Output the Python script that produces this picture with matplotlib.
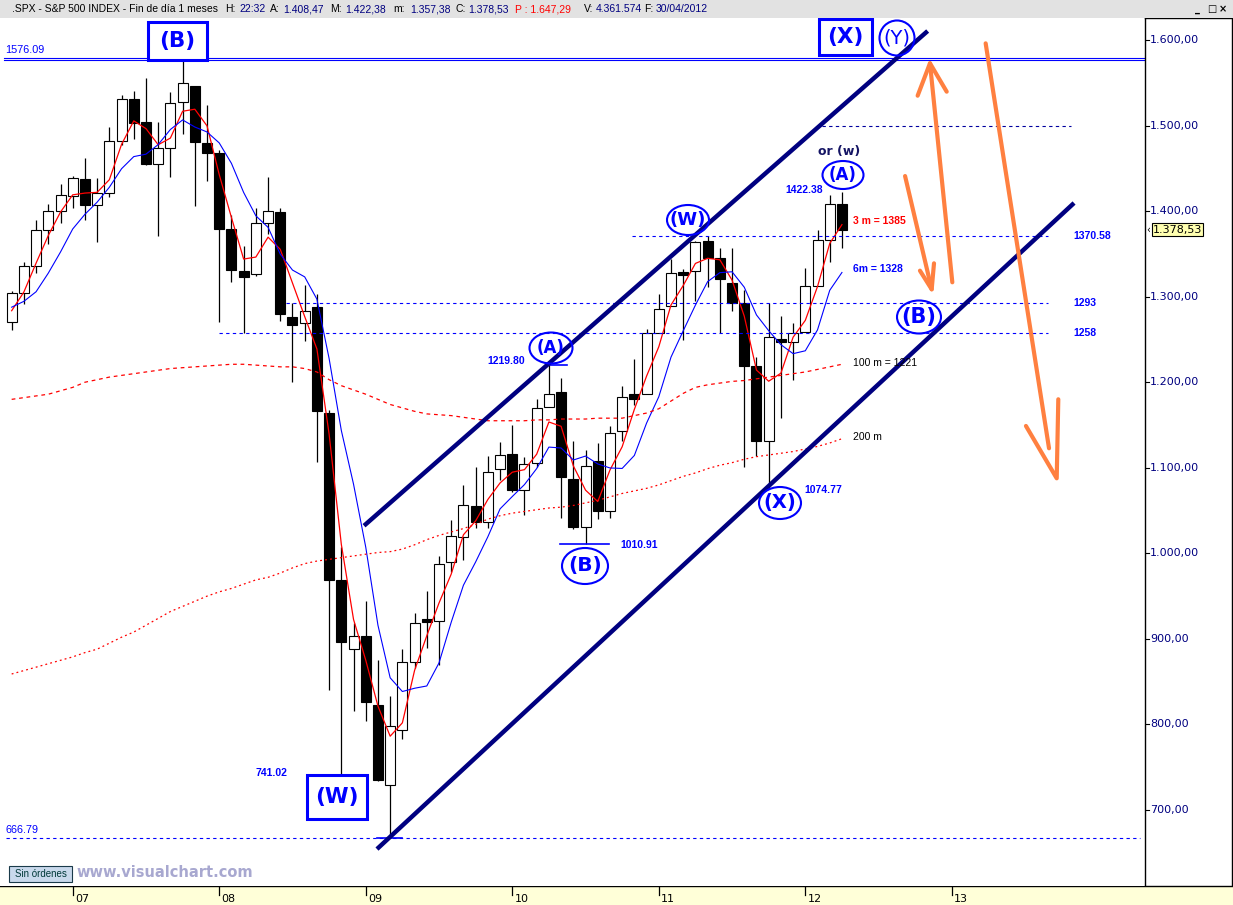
import numpy as np
import pandas as pd
import matplotlib
matplotlib.use("Agg")
from matplotlib import pyplot as plt
from matplotlib.patches import Rectangle, Ellipse

# SPX monthly bars, Aug 2006 .. Apr 2012
months = pd.period_range("2006-08", "2012-04", freq="M")
opens = [1270.9, 1303.8, 1335.8, 1377.8, 1400.6,
         1418.0, 1437.9, 1406.8, 1420.8, 1482.4, 1530.6, 1504.7, 1455.2, 1474.0, 1527.3, 1545.8, 1479.6,
         1468.0, 1378.6, 1330.5, 1326.4, 1386.0, 1399.0, 1276.7, 1269.4, 1287.8, 1164.2, 968.7, 888.6,
         903.0, 823.1, 729.6, 793.6, 872.7, 923.3, 920.8, 990.2, 1019.5, 1054.9, 1036.2, 1098.9,
         1116.6, 1073.9, 1105.4, 1171.2, 1188.6, 1087.3, 1031.1, 1107.5, 1049.7, 1143.5, 1185.7, 1186.6,
         1257.6, 1289.1, 1328.6, 1329.5, 1365.2, 1345.2, 1315.7, 1292.6, 1219.1, 1131.2, 1251.0, 1246.9,
         1258.9, 1312.5, 1365.9, 1408.5]
highs = [1306.7, 1340.3, 1389.5, 1407.9, 1431.8,
         1441.6, 1461.6, 1438.9, 1498.0, 1535.6, 1540.6, 1555.9, 1503.9, 1538.7, 1576.1, 1545.8, 1523.6,
         1471.8, 1396.0, 1359.7, 1404.0, 1440.2, 1404.1, 1292.2, 1313.2, 1303.0, 1167.0, 1007.5, 918.9,
         943.9, 875.0, 833.0, 888.7, 930.2, 956.2, 996.7, 1039.5, 1080.2, 1101.4, 1113.7, 1130.4,
         1150.5, 1112.4, 1180.7, 1219.8, 1205.1, 1131.2, 1121.0, 1129.2, 1148.7, 1196.1, 1227.1, 1262.6,
         1302.7, 1344.1, 1332.3, 1364.6, 1370.6, 1356.5, 1356.5, 1307.4, 1229.3, 1292.7, 1277.6, 1269.4,
         1333.5, 1378.0, 1419.2, 1422.4]
lows = [1261.3, 1290.9, 1327.1, 1361.0, 1385.9,
        1404.0, 1389.4, 1364.0, 1416.4, 1476.7, 1484.2, 1454.3, 1370.6, 1439.3, 1489.6, 1406.1, 1435.6,
        1270.1, 1316.8, 1257.0, 1324.4, 1373.1, 1272.0, 1200.4, 1248.6, 1106.4, 839.8, 741.0, 815.7,
        804.3, 734.5, 666.8, 783.3, 866.1, 888.9, 869.3, 978.5, 992.0, 1029.4, 1029.4, 1085.9,
        1071.6, 1044.5, 1101.0, 1170.7, 1040.8, 1028.3, 1010.9, 1039.7, 1041.1, 1131.9, 1173.0, 1186.6,
        1257.6, 1289.1, 1249.1, 1294.7, 1311.8, 1258.1, 1283.0, 1101.5, 1114.2, 1074.8, 1158.7, 1202.4,
        1258.9, 1312.5, 1340.0, 1357.4]
closes = [1303.8, 1335.9, 1377.9, 1400.6, 1418.3,
          1438.2, 1406.8, 1420.9, 1482.4, 1530.6, 1503.4, 1455.3, 1474.0, 1526.8, 1549.4, 1481.1, 1468.4,
          1378.6, 1330.6, 1322.7, 1385.6, 1400.4, 1280.0, 1267.4, 1282.8, 1166.4, 968.8, 896.2, 903.3,
          825.9, 735.1, 797.9, 872.8, 919.1, 919.3, 987.5, 1020.6, 1057.1, 1036.2, 1095.6, 1115.1,
          1073.9, 1104.5, 1169.4, 1186.7, 1089.4, 1030.7, 1101.6, 1049.3, 1141.2, 1183.3, 1180.6, 1257.6,
          1286.1, 1327.2, 1325.8, 1363.6, 1345.2, 1320.6, 1292.3, 1218.9, 1131.4, 1253.3, 1247.0, 1257.6,
          1312.4, 1365.7, 1408.5, 1378.5]
# closes Mar-Jul 2006, needed for the 3 and 6 month averages
prior_closes = [1294.9, 1310.6, 1270.1, 1270.2, 1276.7]

# 100 and 200 month averages
ma100 = [1180, 1182, 1184, 1186, 1190, 1194, 1200, 1203, 1206, 1208, 1210, 1212, 1214, 1216, 1217,
         1218, 1219, 1220, 1221, 1221, 1220, 1219, 1218, 1218, 1216, 1212, 1203, 1196, 1191, 1186,
         1180, 1174, 1170, 1166, 1163, 1162, 1161, 1159, 1157, 1155, 1155, 1155, 1155, 1156, 1156,
         1157, 1157, 1157, 1158, 1158, 1158, 1161, 1164, 1169, 1178, 1187, 1194, 1197, 1199, 1201,
         1202, 1204, 1206, 1208, 1210, 1212, 1215, 1218, 1221]
ma200 = [859, 863, 867, 871, 875, 879, 884, 888, 895, 902, 908, 916, 924, 932, 938,
         944, 950, 955, 959, 964, 969, 972, 977, 983, 988, 991, 993, 995, 997, 999,
         1001, 1002, 1005, 1010, 1016, 1021, 1025, 1029, 1034, 1040, 1044, 1047, 1049, 1051, 1053,
         1054, 1056, 1059, 1062, 1066, 1070, 1073, 1076, 1080, 1085, 1090, 1094, 1099, 1103, 1106,
         1110, 1113, 1115, 1117, 1119, 1122, 1125, 1129, 1134]

# horizontal levels: (price, month from, month to)
levels_dashed = [(1500.0, 66.4, 86.8), (1370.58, 50.8, 84.9), (1293.0, 22.5, 84.9), (1258.0, 17.0, 84.9)]
level_labels = ["", "1370.58", "1293", "1258"]
low_mark = 666.79
high_mark = 1576.09
short_marks = [(1010.91, 44.9, 48.9), (666.79, 29.9, 32.0), (1219.8, 43.9, 45.5)]

# channel lines (month index, price)
channel_upper = [(28.86, 1032.3), (75.02, 1610.5)]
channel_lower = [(29.92, 654.4), (87.01, 1409.5)]

# orange arrows: shaft and head (month index, price)
arrows = [
    ([(77.04, 1316.8), (75.21, 1572.8)], [(74.20, 1534.9), (75.21, 1572.8), (76.58, 1539.6)]),
    ([(73.17, 1441.0), (75.35, 1308.6)], [(74.39, 1330.4), (75.35, 1308.6), (75.54, 1339.0)]),
    ([(79.77, 1596.1), (84.96, 1122.8)], [(83.07, 1148.9), (85.59, 1087.7), (85.72, 1180.1)]),
]

plt.rcParams["font.family"] = ["DejaVu Sans"]

W, H = 1233, 905
X0, DX = 11.66, 12.21     # pixel of first bar, pixels per month
Y0, KY = 40.0, 0.8556     # pixel of 1600, pixels per point


def dx(px):
    return (px - X0) / DX


def dy(py):
    return 1600 - (py - Y0) / KY


fig = plt.figure(figsize=(W / 100, H / 100), dpi=100)
fig.patch.set_facecolor("white")

ax = fig.add_axes([0, (H - 886) / H, 1145 / W, (886 - 18) / H])
ax.set_xlim(dx(0), dx(1145))
ax.set_ylim(dy(886), dy(18))
ax.axis("off")

x = np.arange(len(months))

# candles
bw = 10 / DX
for i in x:
    o, h, l, c = opens[i], highs[i], lows[i], closes[i]
    ax.vlines(i, l, h, color="black", lw=0.9, zorder=2)
    bottom = min(o, c)
    height = max(abs(c - o), 1.2)
    face = "white" if c >= o else "black"
    ax.add_patch(Rectangle((i - bw / 2, bottom), bw, height, facecolor=face,
                           edgecolor="black", lw=0.8, zorder=3))

# moving averages
all_closes = pd.Series(prior_closes + closes)
ma3 = all_closes.rolling(3).mean().values[len(prior_closes):]
ma6 = all_closes.rolling(6).mean().values[len(prior_closes):]
ax.plot(x, ma3, color="#ff0000", lw=0.9, zorder=4)
ax.plot(x, ma6, color="#0000ff", lw=0.8, zorder=4)
ax.plot(x, ma100, color="#ff0000", lw=0.9, ls=(0, (3, 3)), zorder=4)
ax.plot(x, ma200, color="#ff0000", lw=0.9, ls=(0, (1.5, 2.5)), zorder=4)

# levels
for (p, a, b), lab in zip(levels_dashed, level_labels):
    col = "#0000a0" if p == 1500.0 else "#0000ff"
    ax.plot([a, b], [p, p], color=col, lw=0.8, ls=(0, (3, 3)), zorder=4)
    if lab:
        ax.text(dx(1073), p, lab, color="#0000ff", fontsize=7.5, fontweight="bold",
                family="Liberation Sans", va="center", ha="left", zorder=8)
ax.plot([dx(6), dx(1140)], [low_mark, low_mark], color="#0000ff", lw=0.8, ls=(0, (3, 3)), zorder=4)
for off in (0, 2.3):
    ax.plot([dx(4), dx(1145)], [high_mark + off, high_mark + off], color="#0000ff", lw=0.8, zorder=4)
ax.text(dx(5), dy(50), "1576.09", color="#0000ff", fontsize=7.8, family="Liberation Sans",
        va="center", ha="left")
ax.text(dx(5), dy(830), "666.79", color="#0000ff", fontsize=7.8, family="Liberation Sans",
        va="center", ha="left")
for p, a, b in short_marks:
    ax.plot([a, b], [p, p], color="#0000ff", lw=1.2, zorder=4)

# channel
for seg in (channel_upper, channel_lower):
    ax.plot([seg[0][0], seg[1][0]], [seg[0][1], seg[1][1]], color="#000080", lw=3.2,
            solid_capstyle="butt", zorder=6)

# orange arrows
for shaft, head in arrows:
    ax.plot([q[0] for q in shaft], [q[1] for q in shaft], color="#ff8040", lw=3,
            solid_capstyle="round", zorder=7)
    ax.plot([q[0] for q in head], [q[1] for q in head], color="#ff8040", lw=3,
            solid_capstyle="round", solid_joinstyle="round", zorder=7)

# boxed wave labels (text, cx, cy, x1, y1, x2, y2) in pixels
boxed = [("(B)", 177, 41, 148, 22, 207, 60),
         ("(X)", 845, 37, 819, 19, 872, 55),
         ("(W)", 337, 797, 307, 775, 367, 819)]
for t, cx, cy, x1, y1, x2, y2 in boxed:
    ax.add_patch(Rectangle((dx(x1), dy(y2)), (x2 - x1) / DX, (y2 - y1) / KY, facecolor="white",
                           edgecolor="#0000ff", lw=2.2, zorder=8))
    ax.text(dx(cx), dy(cy), t, color="#0000ff", fontsize=15.5, fontweight="bold",
            ha="center", va="center", zorder=9)

# circled wave labels (text, cx, cy, w, h, fontsize, bold)
circled = [("(A)", 551, 348, 43, 31, 12, True),
           ("(B)", 585, 566, 46, 36, 14.5, True),
           ("(W)", 688, 220, 42, 30, 13, True),
           ("(X)", 780, 503, 42, 32, 14, True),
           ("(A)", 843, 175, 41, 28, 12, True),
           ("(B)", 919, 317, 44, 33, 15, True),
           ("(Y)", 897, 38, 35, 35, 14, False)]
for t, cx, cy, w, h, fs, bold in circled:
    ax.add_patch(Ellipse((dx(cx), dy(cy)), w / DX, h / KY, facecolor="none",
                         edgecolor="#0000ff", lw=1.5, zorder=8))
    ax.text(dx(cx), dy(cy), t, color="#0000ff", fontsize=fs,
            fontweight="bold" if bold else "normal", ha="center", va="center", zorder=9)

# small notes (text, px, py, colour, bold)
notes = [("1219.80", 487, 361, "#0000ff", True),
         ("1010.91", 620, 545, "#0000ff", True),
         ("741.02", 256, 773, "#0000ff", True),
         ("1422.38", 785, 190, "#0000ff", True),
         ("1074.77", 804, 490, "#0000ff", True),
         ("3 m = 1385", 853, 221, "#ff0000", True),
         ("6m = 1328", 853, 269, "#0000ff", True),
         ("100 m = 1221", 853, 363, "black", False),
         ("200 m", 853, 437, "black", False)]
for t, px, py, col, bold in notes:
    ax.text(dx(px), dy(py), t, color=col, fontsize=7.5, family="Liberation Sans",
            fontweight="bold" if bold else "normal", ha="left", va="center", zorder=9)
ax.text(dx(818), dy(152), "or (w)", color="#141464", fontsize=9, fontweight="bold",
        ha="left", va="center", zorder=9)

# price panel on the right
pax = fig.add_axes([1145 / W, (H - 886) / H, (1232 - 1145) / W, (886 - 18) / H])
pax.set_xlim(0, 87)
pax.set_ylim(dy(886), dy(18))
pax.set_xticks([])
pax.set_yticks([])
for s in pax.spines.values():
    s.set_color("black")
    s.set_linewidth(1)
for p in range(700, 1700, 100):
    pax.plot([0, 4], [p, p], color="black", lw=0.8)
    lab = f"{p:,.2f}".replace(",", "X").replace(".", ",").replace("X", ".")
    pax.text(5, p, lab, color="#000080", fontsize=8, va="center", ha="left")
pax.text(8, closes[-1], "1.378,53", color="black", fontsize=8, va="center", ha="left",
         bbox=dict(boxstyle="square,pad=0.1", facecolor="#ffffb0", edgecolor="black", lw=0.8))
pax.text(1.5, closes[-1], "‹", color="black", fontsize=7, va="center", ha="left")

# time axis band
bax = fig.add_axes([0, 0, 1, (905 - 886) / H])
bax.set_xlim(dx(0), dx(W))
bax.set_ylim(0, 19)
bax.axis("off")
bax.add_patch(Rectangle((dx(0), 0), dx(W) - dx(0), 19, facecolor="#ffffd8", edgecolor="none"))
bax.plot([dx(0), dx(W)], [18.6, 18.6], color="black", lw=1)
ticks = pd.period_range("2006-08", "2013-06", freq="M")
for i, m in enumerate(ticks):
    if m.month == 1:
        bax.plot([i, i], [18.6, 10], color="black", lw=0.9)
        bax.text(i + 0.2, 6, f"{m.year % 100:02d}", fontsize=8, va="center", ha="left")

# header bar
fig.patches.append(Rectangle((0, 1 - 18 / H), 1, 18 / H, transform=fig.transFigure,
                             facecolor="#e2e2e2", edgecolor="none"))
header = [(12, ".SPX - S&P 500 INDEX - Fin de día 1 meses", "black"),
          (225, "H:", "black"), (239, "22:32", "#000080"),
          (270, "A:", "black"), (283, "1.408,47", "#000080"),
          (330, "M:", "black"), (345, "1.422,38", "#000080"),
          (393, "m:", "black"), (410, "1.357,38", "#000080"),
          (455, "C:", "black"), (468, "1.378,53", "#000080"),
          (515, "P : 1.647,29", "#ff0000"),
          (584, "V:", "black"), (596, "4.361.574", "#000080"),
          (644, "F:", "black"), (656, "30/04/2012", "#000080")]
for px, t, col in header:
    fig.text(px / W, 1 - 9 / H, t, color=col, fontsize=7.5, family="Liberation Sans",
             va="center", ha="left")
for px, t in [(1195, "_"), (1207, "□"), (1219, "×")]:
    fig.text(px / W, 1 - 9 / H, t, color="black", fontsize=7, fontweight="bold",
             va="center", ha="left")

# footer items
fig.patches.append(Rectangle((9 / W, 1 - 882 / H), 63 / W, 16 / H, transform=fig.transFigure,
                             facecolor="#c9d9ec", edgecolor="#1a3a4a", lw=0.8))
fig.text(40.5 / W, 1 - 874 / H, "Sin órdenes", color="#003838", fontsize=7,
         family="Liberation Sans", ha="center", va="center")
fig.text(76 / W, 1 - 872 / H, "www.visualchart.com", color="#a8a8d0", fontsize=10.5,
         fontweight="bold", ha="left", va="center")

fig.savefig("out.png", dpi=100)
